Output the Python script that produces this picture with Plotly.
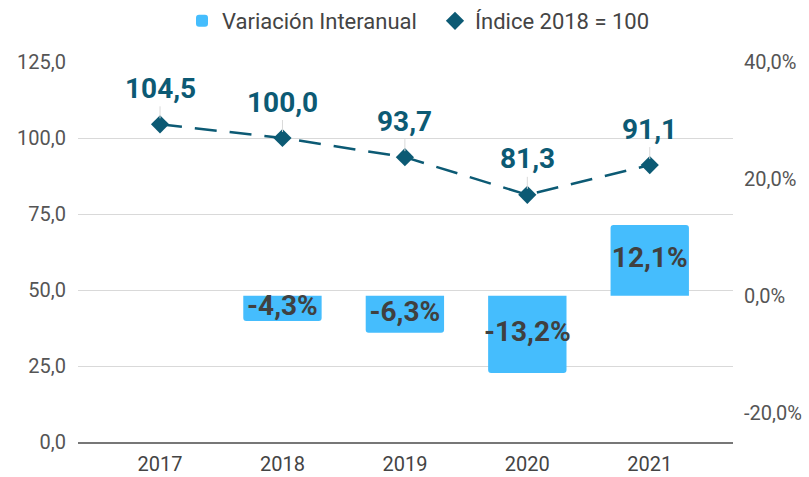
import plotly.graph_objects as go

years = ["2017", "2018", "2019", "2020", "2021"]
variacion = [None, -4.3, -6.3, -13.2, 12.1]
indice = [104.5, 100.0, 93.7, 81.3, 91.1]

left_ticks = [0, 25, 50, 75, 100, 125]
right_ticks = [-20, 0, 20, 40]

BAR_COLOR = "#45bdfd"
LINE_COLOR = "#0c5a74"
TEXT_DARK = "#404040"
FONT = "Roboto"

xs = list(range(len(years)))

def fmt(v):
    return f"{v:.1f}".replace(".", ",")

fig = go.Figure()

fig.add_trace(go.Bar(
    x=xs, y=variacion, yaxis="y2", name="Variación Interanual",
    marker=dict(color=BAR_COLOR, cornerradius=3, line=dict(width=0)),
    width=0.64, hoverinfo="skip",
))

fig.add_trace(go.Scatter(
    x=[x for x, v in zip(xs, variacion) if v is not None],
    y=[v / 2 for v in variacion if v is not None],
    yaxis="y2", mode="text",
    text=[fmt(v) + "%" for v in variacion if v is not None],
    textfont=dict(family=FONT, size=28, color=TEXT_DARK, weight="bold"),
    showlegend=False, hoverinfo="skip",
))

fig.add_trace(go.Scatter(
    x=xs, y=indice, name="Índice 2018 = 100", mode="lines+markers",
    line=dict(color=LINE_COLOR, width=2.5, dash="22px,13px"),
    marker=dict(symbol="diamond", size=14, color=LINE_COLOR),
    showlegend=False, hoverinfo="skip",
))

# legend entry: diamond only
fig.add_trace(go.Scatter(
    x=[None], y=[None], name="Índice 2018 = 100", mode="markers",
    marker=dict(symbol="diamond", size=14, color=LINE_COLOR),
))

for x, v in zip(xs, indice):
    fig.add_annotation(
        x=x, y=v, xref="x", yref="y", text=f"<b>{fmt(v)}</b>",
        showarrow=True, arrowhead=0, arrowwidth=1, arrowcolor="#d9d9d9",
        ax=0, ay=-36, standoff=6,
        font=dict(family=FONT, size=28, color=LINE_COLOR),
    )

fig.update_layout(
    width=809, height=477,
    margin=dict(l=78, r=76, t=62, b=35, autoexpand=False),
    paper_bgcolor="white", plot_bgcolor="white",
    separators=",.",
    font=dict(family=FONT, size=20, color="#444444"),
    showlegend=True,
    legend=dict(orientation="h", xref="container", x=182 / 809, xanchor="left",
                yref="container", y=1 - 21 / 477, yanchor="middle",
                font=dict(family=FONT, size=22, color="#444444"),
                itemwidth=30, traceorder="normal",
                entrywidth=208, entrywidthmode="pixels"),
    xaxis=dict(
        tickmode="array", tickvals=xs, ticktext=years,
        range=[-0.67, 4.68], showgrid=False, zeroline=False,
        showline=True, linecolor="#777777", linewidth=1.5,
        tickfont=dict(family=FONT, size=20, color="#444444"),
        ticks="", ticklabelstandoff=3,
    ),
    yaxis=dict(
        range=[0, 125], tickvals=left_ticks, tickformat=".1f",
        showgrid=True, gridcolor="#d9d9d9", gridwidth=1, zeroline=False,
        tickfont=dict(family=FONT, size=20, color="#555555"),
        ticklabelstandoff=11,
    ),
    yaxis2=dict(
        range=[-25, 40], tickmode="array", tickvals=right_ticks,
        ticktext=[fmt(t) + "%" for t in right_ticks],
        overlaying="y", side="right", showgrid=False, zeroline=False,
        tickfont=dict(family=FONT, size=20, color="#555555"),
        ticklabelstandoff=10,
    ),
    barmode="overlay",
)

fig.write_html("out.html", config={"displayModeBar": False},
               post_script="document.body.style.margin='0';")
